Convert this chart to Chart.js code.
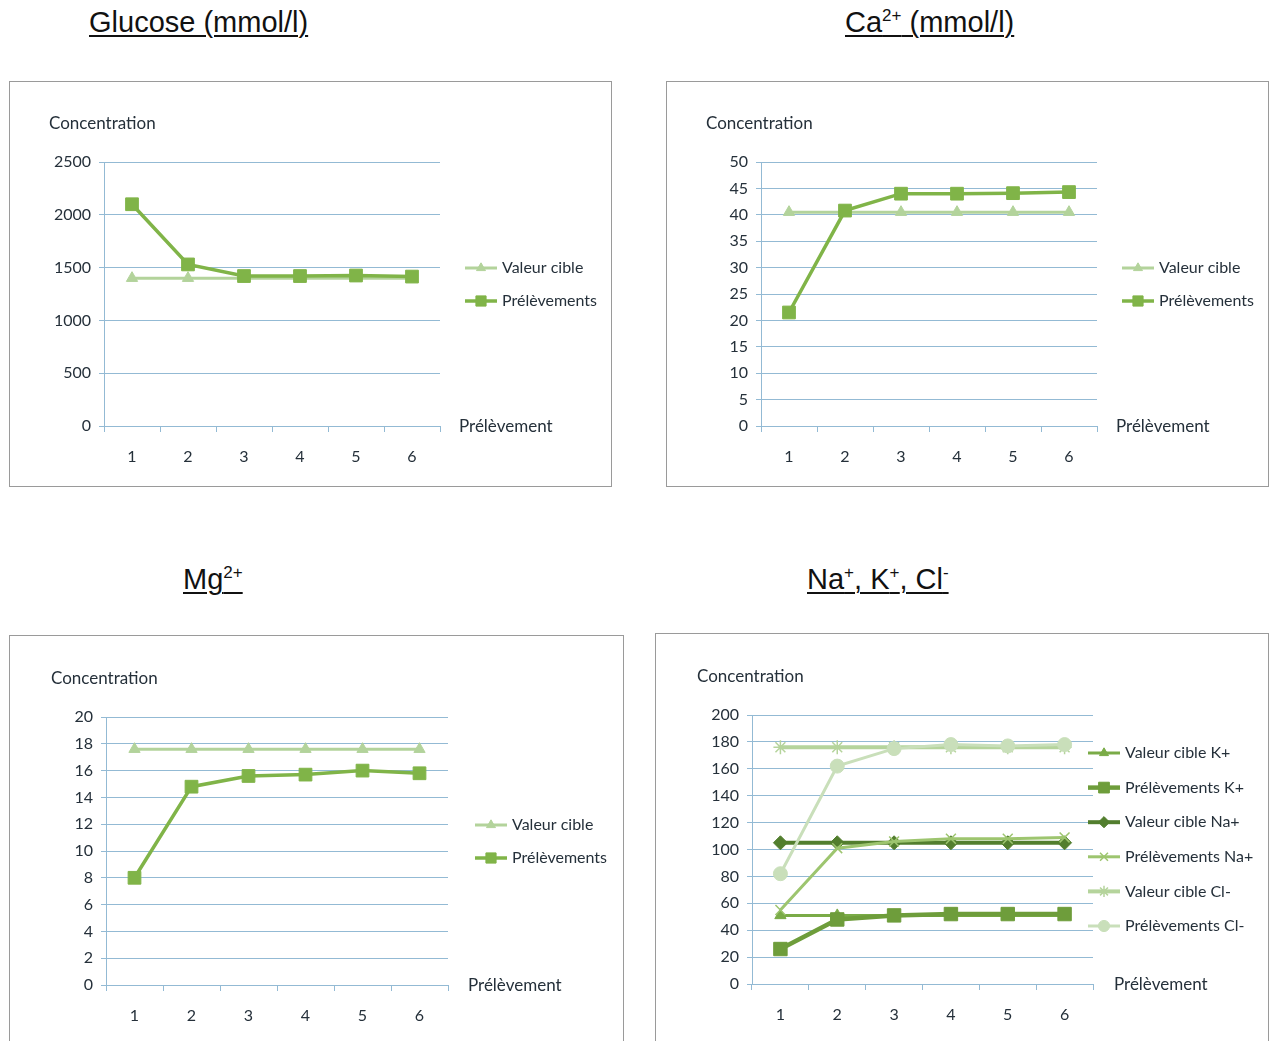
<!DOCTYPE html>
<html>
<head>
<meta charset="utf-8">
<script src="https://cdn.jsdelivr.net/npm/chart.js@4.4.1/dist/chart.umd.min.js"></script>
<style>
  body { margin: 0; width: 1271px; height: 1041px; overflow: hidden; background: #fff; position: relative; font-family: "Liberation Sans", Arial, sans-serif; }
  .title { position: absolute; font-size: 29px; line-height: 1; color: #111; white-space: nowrap;
           text-decoration: underline; text-decoration-thickness: 2px; text-underline-offset: 3px; }
  .title sup { font-size: 17px; vertical-align: super; line-height: 0; }
  .box { position: absolute; border: 1px solid #9a9a9a; background: #fff; }
  .box canvas { position: absolute; left: 0; top: 0; }
</style>
</head>
<body>

<div class="title" style="left:89px;top:8px">Glucose (mmol/l)</div>
<div class="title" style="left:845px;top:8px">Ca<sup>2+</sup> (mmol/l)</div>
<div class="title" style="left:183px;top:565px">Mg<sup>2+</sup></div>
<div class="title" style="left:807px;top:565px">Na<sup>+</sup>, K<sup>+</sup>, Cl<sup>-</sup></div>

<div class="box" style="left:9px;top:81px;width:601px;height:404px"><canvas id="glucose" width="601" height="404"></canvas></div>
<div class="box" style="left:666px;top:81px;width:601px;height:404px"><canvas id="calcium" width="601" height="404"></canvas></div>
<div class="box" style="left:9px;top:635px;width:613px;height:408px"><canvas id="magnesium" width="613" height="408"></canvas></div>
<div class="box" style="left:655px;top:633px;width:612px;height:408px"><canvas id="ions" width="612" height="408"></canvas></div>

<script>
// prélèvements 1..6
const samples = ["1", "2", "3", "4", "5", "6"];

const glucoseCible = [1400, 1400, 1400, 1400, 1400, 1400];
const glucosePrel = [2100, 1530, 1420, 1420, 1425, 1415];

const caCible = [40.5, 40.5, 40.5, 40.5, 40.5, 40.5];
const caPrel = [21.5, 40.8, 44, 44, 44.1, 44.3];

const mgCible = [17.6, 17.6, 17.6, 17.6, 17.6, 17.6];
const mgPrel = [8, 14.8, 15.6, 15.7, 16, 15.8];

const kCible = [51, 51, 51, 51, 51, 51];
const kPrel = [26, 48, 51, 52, 52, 52];
const naCible = [105, 105, 105, 105, 105, 105];
const naPrel = [55, 101, 106, 108, 108, 109];
const clCible = [176, 176, 176, 176, 176, 176];
const clPrel = [82, 162, 175, 178, 177, 178];

// axis max / step
const glucoseAxis = [2500, 500];
const caAxis = [50, 5];
const mgAxis = [20, 2];
const ionsAxis = [200, 20];

const gridCol = "#93bad4";
const textCol = "#25303a";

function series(label, data, color, style, radius, width, i) {
  return {
    label: label,
    data: data,
    borderColor: color,
    backgroundColor: color,
    pointBackgroundColor: color,
    pointBorderColor: color,
    pointStyle: style,
    pointRadius: radius,
    pointHoverRadius: radius,
    pointBorderWidth: (style == "star" || style == "crossRot") ? 1.5 : 1,
    borderWidth: width,
    tension: 0,
    fill: false,
    order: -i, // later series on top, like the original
  };
}

// "Concentration", "Prélèvement" and the legend, placed from the chart area
const decor = {
  id: "decor",
  afterDraw(chart, args, o) {
    const ctx = chart.ctx;
    const a = chart.chartArea;
    ctx.save();
    ctx.fillStyle = textCol;
    ctx.textAlign = "left";
    ctx.textBaseline = "middle";
    ctx.font = "17px Lato";
    ctx.fillText("Concentration", a.left - 55, a.top - 38);
    ctx.fillText("Prélèvement", a.right + o.xTitleDx, a.bottom + 1);
    ctx.font = "16px Lato";
    chart.data.datasets.forEach((ds, i) => {
      const x = a.right + o.legendDx;
      const y = a.top + o.legendTop + i * o.legendGap;
      ctx.strokeStyle = ds.borderColor;
      ctx.lineWidth = ds.borderWidth;
      ctx.beginPath();
      ctx.moveTo(x, y);
      ctx.lineTo(x + 32, y);
      ctx.stroke();
      ctx.fillStyle = ds.pointBackgroundColor;
      ctx.strokeStyle = ds.pointBorderColor;
      ctx.lineWidth = ds.pointBorderWidth;
      Chart.helpers.drawPoint(ctx, { pointStyle: ds.pointStyle, radius: ds.pointRadius * 0.8, borderWidth: ds.pointBorderWidth, rotation: 0 }, x + 16, y);
      ctx.fillStyle = textCol;
      ctx.fillText(ds.label, x + 37, y);
    });
    ctx.restore();
  },
};

function makeChart(id, datasets, axis, lay) {
  const font = { family: "Lato", size: 16 };
  return new Chart(document.getElementById(id), {
    type: "line",
    data: { labels: samples, datasets: datasets },
    options: {
      responsive: false,
      animation: false,
      layout: { padding: { left: lay.left - 50, top: lay.top, right: lay.right, bottom: lay.bottom - 42 } },
      plugins: {
        legend: { display: false },
        tooltip: { enabled: false },
        decor: lay,
      },
      scales: {
        x: {
          offset: true,
          grid: { offset: true, drawOnChartArea: false, drawTicks: true, tickLength: 6, color: gridCol },
          border: { color: gridCol },
          ticks: { color: textCol, font: font, padding: 15 },
          afterFit: (s) => { s.height = 42; },
        },
        y: {
          min: 0,
          max: axis[0],
          grid: { color: gridCol, tickLength: 5 },
          border: { color: gridCol },
          ticks: { stepSize: axis[1], color: textCol, font: font, padding: 8, callback: (v) => String(v) },
          afterFit: (s) => { s.width = 50; },
        },
      },
    },
    plugins: [decor],
  });
}

const pale = "#b3d39b";
const green = "#80b448";

window.addEventListener("load", function () {
  makeChart("glucose", [
    series("Valeur cible", glucoseCible, pale, "triangle", 6.5, 3, 0),
    series("Prélèvements", glucosePrel, green, "rect", 9, 3.5, 1),
  ], glucoseAxis, { left: 94, top: 80, right: 171, bottom: 60, xTitleDx: 19, legendDx: 25, legendTop: 106, legendGap: 33 });

  makeChart("calcium", [
    series("Valeur cible", caCible, pale, "triangle", 6.5, 3, 0),
    series("Prélèvements", caPrel, green, "rect", 9, 3.5, 1),
  ], caAxis, { left: 94, top: 80, right: 171, bottom: 60, xTitleDx: 19, legendDx: 25, legendTop: 106, legendGap: 33 });

  makeChart("magnesium", [
    series("Valeur cible", mgCible, pale, "triangle", 6.5, 3, 0),
    series("Prélèvements", mgPrel, green, "rect", 9, 3.5, 1),
  ], mgAxis, { left: 96, top: 81, right: 175, bottom: 59, xTitleDx: 20, legendDx: 27, legendTop: 108, legendGap: 33 });

  makeChart("ions", [
    series("Valeur cible K+", kCible, "#7aab47", "triangle", 6.5, 3, 0),
    series("Prélèvements K+", kPrel, "#6e9d3b", "rect", 9.5, 4.5, 1),
    series("Valeur cible Na+", naCible, "#527e2e", "rectRot", 7, 4, 2),
    series("Prélèvements Na+", naPrel, "#9dc56f", "crossRot", 7, 3, 3),
    series("Valeur cible Cl-", clCible, "#b5d49c", "star", 7, 4, 4),
    series("Prélèvements Cl-", clPrel, "#c9dfba", "circle", 7, 3, 5),
  ], ionsAxis, { left: 96, top: 81, right: 175, bottom: 58, xTitleDx: 21, legendDx: -5, legendTop: 38, legendGap: 34.6 });
});
</script>
</body>
</html>
